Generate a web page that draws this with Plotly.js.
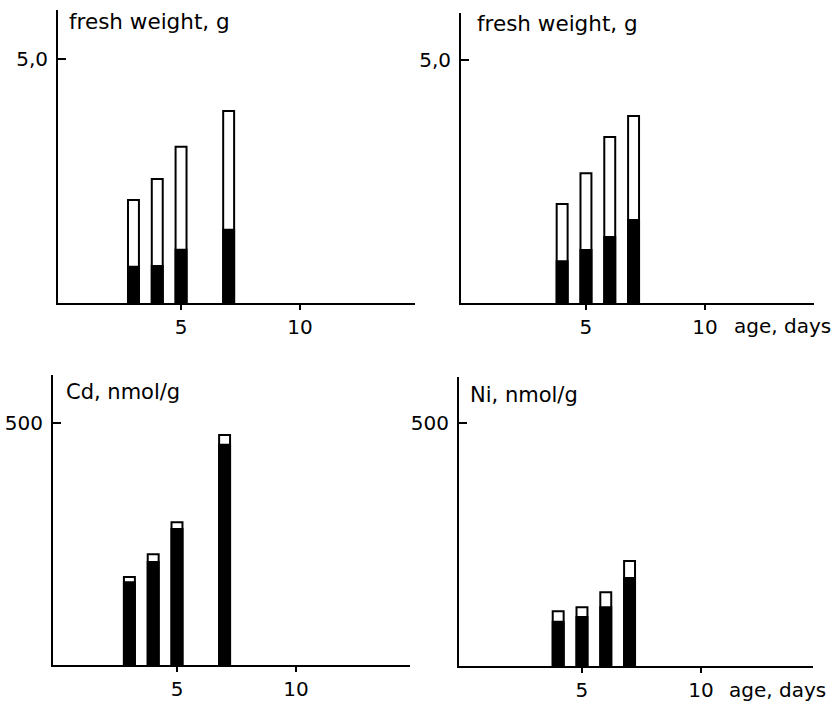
<!DOCTYPE html>
<html>
<head>
<meta charset="utf-8">
<script src="https://cdn.plot.ly/plotly-3.0.1.min.js"></script>
<style>
html,body{margin:0;padding:0;background:#fff;}
#chart{width:836px;height:708px;}
</style>
</head>
<body>
<div id="chart"></div>
<script>
// Panel A (top-left): fresh weight, g
const daysA = [3, 4, 5, 7];
const freshTotalA = [2.11, 2.54, 3.20, 3.93];
const freshBlackA = [0.74, 0.76, 1.09, 1.50];

// Panel B (top-right): fresh weight, g
const daysB = [4, 5, 6, 7];
const freshTotalB = [2.04, 2.67, 3.42, 3.85];
const freshBlackB = [0.86, 1.09, 1.36, 1.71];

// Panel C (bottom-left): Cd, nmol/g
const daysC = [3, 4, 5, 7];
const cdTotal = [182, 229, 295, 475];
const cdBlack = [171, 213, 281, 455];

// Panel D (bottom-right): Ni, nmol/g
const daysD = [4, 5, 6, 7];
const niTotal = [113, 121, 152, 216];
const niBlack = [91, 101, 121, 181];

const xTickVals = [5, 10];
const xTickText = ['5', '10'];
const yTickTop = ['5,0'];
const yTickBottom = ['500'];
const titles = ['fresh weight, g', 'fresh weight, g', 'Cd, nmol/g', 'Ni, nmol/g'];
const xLabel = 'age, days';

const FONT = 'DejaVu Sans';
const BW = 0.46;

function pair(x, total, black, xa, ya) {
  return [
    {type:'bar', x:x, y:total, xaxis:xa, yaxis:ya, width:BW,
     marker:{color:'#ffffff', line:{color:'#000', width:2}}, hoverinfo:'skip'},
    {type:'bar', x:x, y:black, xaxis:xa, yaxis:ya, width:BW,
     marker:{color:'#000000', line:{color:'#000', width:2}}, hoverinfo:'skip'}
  ];
}

const data = [].concat(
  pair(daysA, freshTotalA, freshBlackA, 'x', 'y'),
  pair(daysB, freshTotalB, freshBlackB, 'x2', 'y2'),
  pair(daysC, cdTotal, cdBlack, 'x3', 'y3'),
  pair(daysD, niTotal, niBlack, 'x4', 'y4')
);

function xax(domain, range, anchor) {
  return {domain:domain, range:range, anchor:anchor, showgrid:false, zeroline:false,
    showline:true, linecolor:'#000', linewidth:2, ticks:'outside', ticklen:5, tickwidth:1.5,
    tickcolor:'#000', tickmode:'array', tickvals:xTickVals, ticktext:xTickText,
    tickfont:{family:FONT, size:20, color:'#000'}, fixedrange:true};
}
function yax(domain, range, anchor, tv, tt) {
  return {domain:domain, range:range, anchor:anchor, showgrid:false, zeroline:false,
    showline:true, linecolor:'#000', linewidth:2, ticks:'inside', ticklen:8, tickwidth:2,
    tickcolor:'#000', tickmode:'array', tickvals:tv, ticktext:tt, ticklabelstandoff:4,
    tickfont:{family:FONT, size:20, color:'#000'}, fixedrange:true};
}

function ann(text, x, y, size) {
  return {text:text, x:x, y:y, xref:'paper', yref:'paper', xanchor:'left', yanchor:'middle',
    showarrow:false, font:{family:FONT, size:size, color:'#000'}, borderpad:0};
}

const layout = {
  width:836, height:708, margin:{l:0, r:0, t:0, b:0},
  paper_bgcolor:'#fff', plot_bgcolor:'#fff', showlegend:false, barmode:'overlay',
  font:{family:FONT, color:'#000'},
  xaxis: xax([0.0694, 0.4964], [-0.17, 14.83], 'y'),
  yaxis: yax([0.572, 0.986], [0, 6.0], 'x', [5], yTickTop),
  xaxis2: xax([0.5514, 0.9737], [-0.25, 14.58], 'y2'),
  yaxis2: yax([0.572, 0.9816], [0, 5.97], 'x2', [5], yTickTop),
  xaxis3: xax([0.0634, 0.4904], [-0.21, 14.79], 'y3'),
  yaxis3: yax([0.0607, 0.4703], [0, 599], 'x3', [500], yTickBottom),
  xaxis4: xax([0.549, 0.9725], [-0.17, 14.71], 'y4'),
  yaxis4: yax([0.0593, 0.4675], [0, 595], 'x4', [500], yTickBottom),
  annotations: [
    ann(titles[0], 0.0813, 0.9703, 21.5),
    ann(titles[1], 0.5694, 0.9675, 21.5),
    ann(titles[2], 0.0778, 0.4463, 21),
    ann(titles[3], 0.561, 0.4421, 21),
    ann(xLabel, 0.8768, 0.5395, 20),
    ann(xLabel, 0.8708, 0.0254, 20)
  ]
};

Plotly.newPlot('chart', data, layout, {staticPlot:true, displayModeBar:false});
</script>
</body>
</html>
